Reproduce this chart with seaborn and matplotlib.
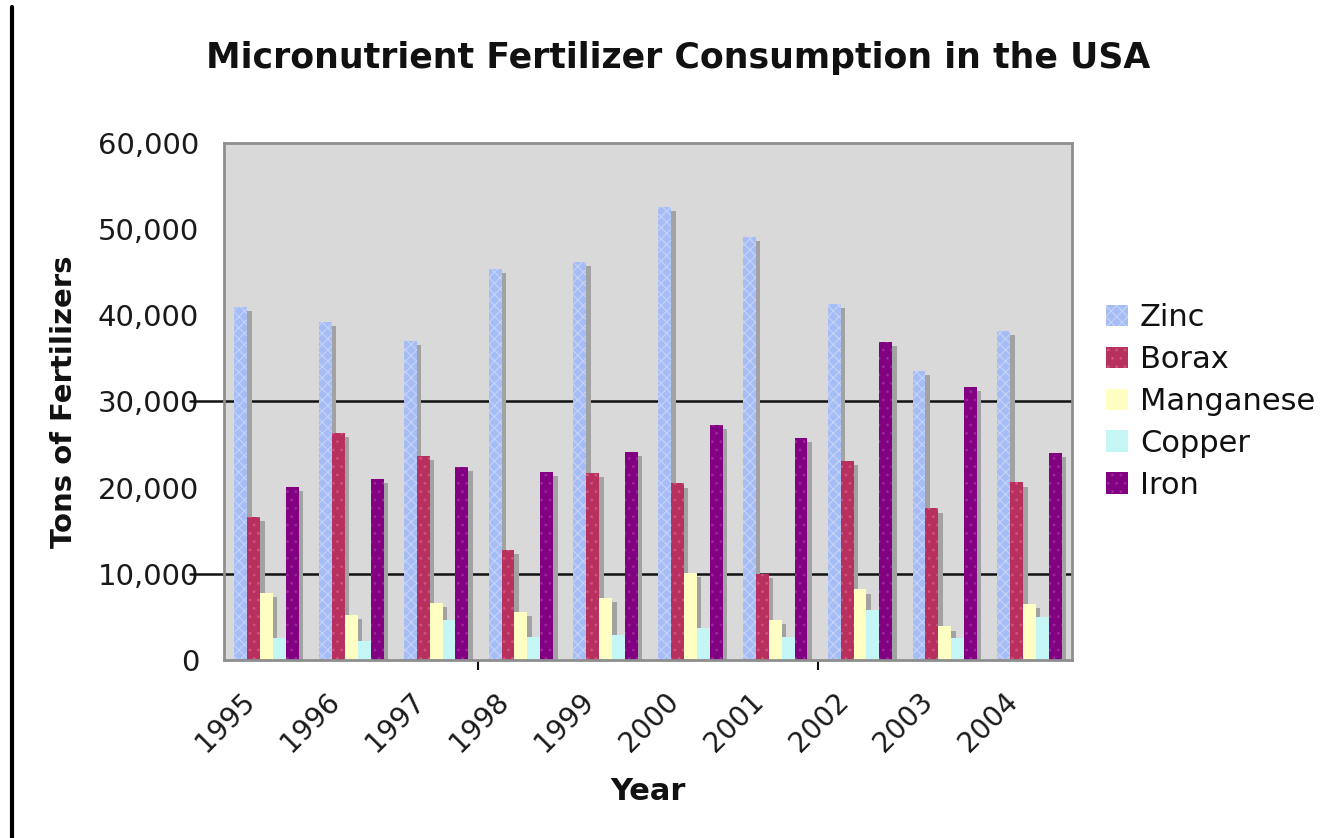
import numpy as np
import pandas as pd
import matplotlib
matplotlib.use("Agg")
import matplotlib.pyplot as plt
import matplotlib.patheffects as pe
import matplotlib.colors as mcolors
import matplotlib.transforms as mtransforms
from matplotlib.lines import Line2D
from matplotlib.ticker import FuncFormatter, FixedLocator
import seaborn as sns

# values (tons)
years = ['1995', '1996', '1997', '1998', '1999', '2000', '2001', '2002', '2003', '2004']
zinc = [41000, 39200, 37000, 45400, 46200, 52600, 49100, 41300, 33500, 38200]
borax = [16600, 26400, 23700, 12800, 21700, 20500, 10000, 23100, 17600, 20600]
manganese = [7800, 5200, 6600, 5600, 7200, 10100, 4700, 8200, 3900, 6500]
copper = [2500, 2200, 4700, 2700, 2900, 3700, 2700, 5800, 2500, 5000]
iron = [20100, 21000, 22400, 21800, 24100, 27300, 25800, 36900, 31700, 24000]

minerals = ['Zinc', 'Borax', 'Manganese', 'Copper', 'Iron']
colors = ['#a6bcf4', '#b8305e', '#ffffc4', '#c4f6f6', '#820082']
hatch_colors = ['#c6d4fa', '#cc5580', '#ffffd8', '#d8fafa', '#962a96']
hatches = ['xxx', '..', '', '', '..']

series = [zinc, borax, manganese, copper, iron]
df = pd.DataFrame({
    'Year': np.tile(years, len(minerals)),
    'Mineral': np.repeat(minerals, len(years)),
    'Tons': np.concatenate(series),
})


class FlatShadow(pe.AbstractPathEffect):
    # plain grey drop shadow, without the bar's hatch pattern
    def __init__(self, offset, color):
        super().__init__(offset)
        self.color = mcolors.to_rgba(color)

    def draw_path(self, renderer, gc, tpath, affine, rgbFace=None):
        gc0 = renderer.new_gc()
        gc0.copy_properties(gc)
        gc0.set_hatch(None)
        gc0.set_linewidth(0)
        renderer.draw_path(gc0, tpath, affine + self._offset_transform(renderer),
                           self.color)
        gc0.restore()


sns.set_theme(style='white')
plt.rcParams['font.family'] = ['DejaVu Sans']
plt.rcParams['hatch.linewidth'] = 0.8
plt.rcParams['text.color'] = '#111111'
plt.rcParams['axes.labelcolor'] = '#111111'

fig = plt.figure(figsize=(13.34, 8.38), dpi=100)
ax = fig.add_axes([0.168, 0.2124, 0.6356, 0.617])

sns.barplot(data=df, x='Year', y='Tons', hue='Mineral', order=years,
            hue_order=minerals, palette=colors, width=0.76, gap=0,
            saturation=1, legend=False, ax=ax)

# Excel-style fill pattern and drop shadow
for cont, hc, h in zip(ax.containers, hatch_colors, hatches):
    for bar in cont:
        bar.set_linewidth(0)
        bar.set_edgecolor(hc)
        bar.set_hatch(h)
        bar.set_path_effects([FlatShadow((3.2, -3), '#a2a2a2'), pe.Normal()])

ax.set_facecolor('#d9d9d9')
for s in ax.spines.values():
    s.set_color('#8e8e8e')
    s.set_linewidth(2)

ax.set_ylim(0, 60000)
ax.set_xlim(-0.5, len(years) - 0.5)
ax.yaxis.set_major_locator(FixedLocator(np.arange(0, 60001, 10000)))
ax.yaxis.set_major_formatter(FuncFormatter(lambda v, p: f'{int(v):,}'))
ax.tick_params(axis='y', length=0, pad=18, labelsize=21, labelcolor='#1a1a1a')

# only two gridlines in the original, poking out a little on the left
for g in [10000, 30000]:
    ax.axhline(g, color='#111111', lw=1.8, zorder=0.5)
    ax.plot([-0.04, 0], [g, g], transform=ax.get_yaxis_transform(),
            color='#111111', lw=1.8, clip_on=False)

ax.tick_params(axis='x', length=0, pad=4, labelsize=20, labelcolor='#1a1a1a')
shift = mtransforms.ScaledTranslation(-0.26, -0.22, fig.dpi_scale_trans)
for lab in ax.get_xticklabels():
    lab.set_rotation(45)
    lab.set_ha('right')
    lab.set_va('top')
    lab.set_rotation_mode('anchor')
    lab.set_transform(lab.get_transform() + shift)
ax.xaxis.set_minor_locator(FixedLocator([2.5, 6.5]))
ax.tick_params(axis='x', which='minor', length=7, width=1.5, color='#111111',
               direction='out', bottom=True)

ax.set_xlabel('Year', fontsize=22, fontweight='bold')
ax.xaxis.set_label_coords(0.5, -0.226)
ax.set_ylabel('Tons of Fertilizers', fontsize=21, fontweight='bold', labelpad=14)

fig.text(0.508, 0.931, 'Micronutrient Fertilizer Consumption in the USA',
         ha='center', va='center', fontsize=25, fontweight='bold', color='#111111')

leg = ax.legend(ax.containers, minerals, loc='center left',
                bbox_to_anchor=(1.008, 0.5), frameon=False, fontsize=22,
                handlelength=0.7, handleheight=0.7, handletextpad=0.4,
                labelspacing=0.42)
for h in leg.legend_handles:
    h.set_path_effects([])

# left border line of the original image
fig.add_artist(Line2D([0.009, 0.009], [0.0, 0.992], color='black', lw=3,
                      transform=fig.transFigure))

fig.savefig('out.png', dpi=100, facecolor='white')
